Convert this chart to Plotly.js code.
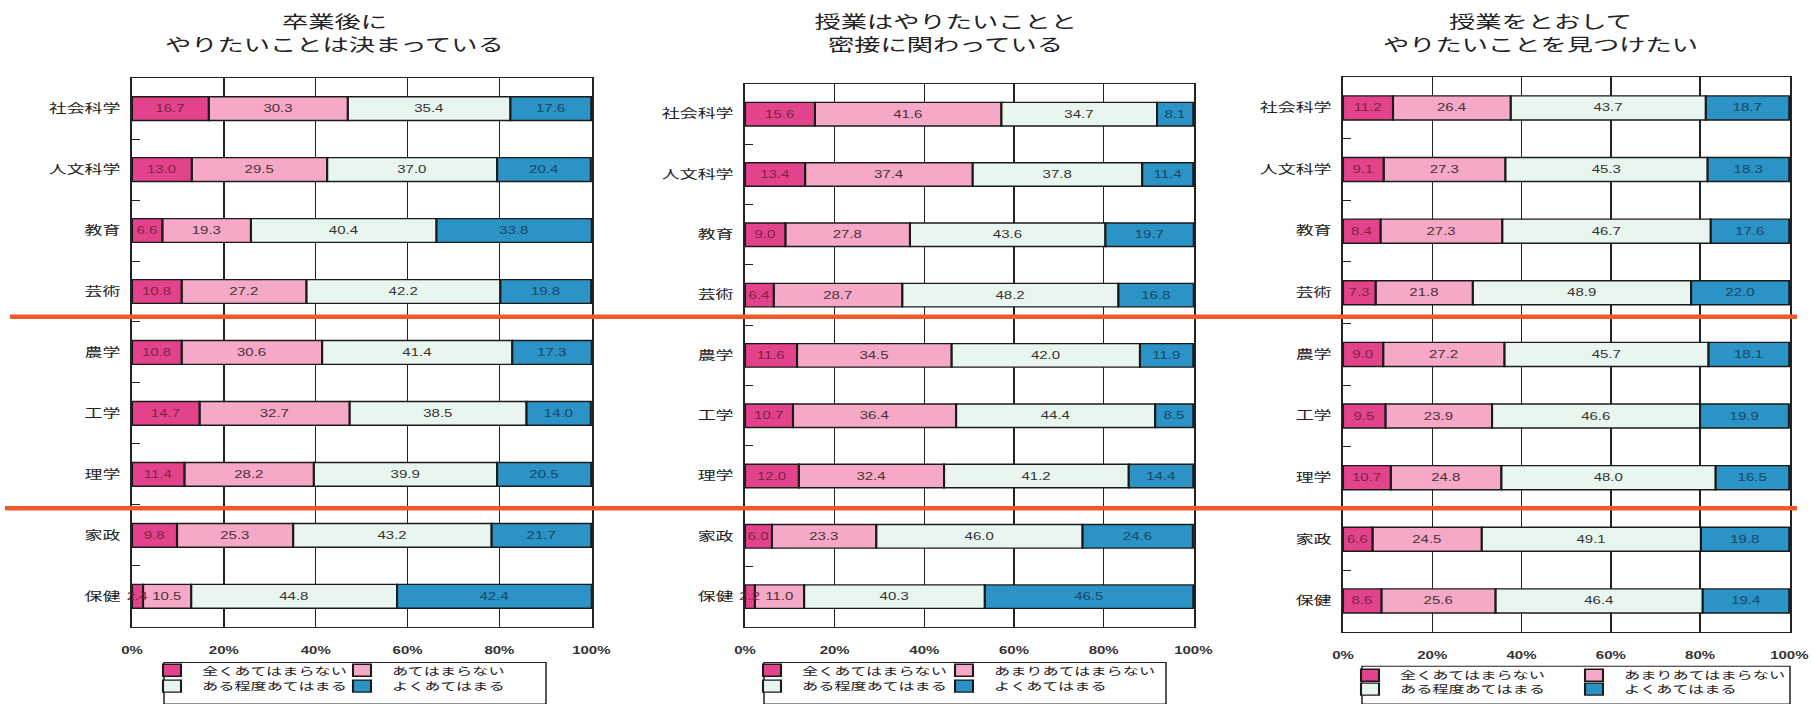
<!DOCTYPE html>
<html>
<head>
<meta charset="utf-8">
<script src="https://cdn.plot.ly/plotly-3.0.1.min.js"></script>
<style>
  html, body { margin: 0; padding: 0; background: #fff; overflow: hidden; }
  /* the figure is laid out narrow and widened horizontally, giving the broad lettering of the printed survey sheet */
  #chart { width: 1208px; height: 704px; transform: scaleX(1.5); transform-origin: 0 0; }
</style>
</head>
<body>
<div id="chart"></div>
<script>
// ---- survey data (percent of respondents) ----
const categories = ['社会科学', '人文科学', '教育', '芸術', '農学', '工学', '理学', '家政', '保健'];

const answersA = ['全くあてはまらない', 'あてはまらない', 'ある程度あてはまる', 'よくあてはまる'];
const answersB = ['全くあてはまらない', 'あまりあてはまらない', 'ある程度あてはまる', 'よくあてはまる'];

const titles = [
  ['卒業後に', 'やりたいことは決まっている'],
  ['授業はやりたいことと', '密接に関わっている'],
  ['授業をとおして', 'やりたいことを見つけたい']
];

// 卒業後にやりたいことは決まっている
const decidedNotAtAll = [16.7, 13.0, 6.6, 10.8, 10.8, 14.7, 11.4, 9.8, 2.4];
const decidedNot      = [30.3, 29.5, 19.3, 27.2, 30.6, 32.7, 28.2, 25.3, 10.5];
const decidedSomewhat = [35.4, 37.0, 40.4, 42.2, 41.4, 38.5, 39.9, 43.2, 44.8];
const decidedVery     = [17.6, 20.4, 33.8, 19.8, 17.3, 14.0, 20.5, 21.7, 42.4];

// 授業はやりたいことと密接に関わっている
const relatedNotAtAll = [15.6, 13.4, 9.0, 6.4, 11.6, 10.7, 12.0, 6.0, 2.2];
const relatedNot      = [41.6, 37.4, 27.8, 28.7, 34.5, 36.4, 32.4, 23.3, 11.0];
const relatedSomewhat = [34.7, 37.8, 43.6, 48.2, 42.0, 44.4, 41.2, 46.0, 40.3];
const relatedVery     = [8.1, 11.4, 19.7, 16.8, 11.9, 8.5, 14.4, 24.6, 46.5];

// 授業をとおしてやりたいことを見つけたい
const findNotAtAll = [11.2, 9.1, 8.4, 7.3, 9.0, 9.5, 10.7, 6.6, 8.6];
const findNot      = [26.4, 27.3, 27.3, 21.8, 27.2, 23.9, 24.8, 24.5, 25.6];
const findSomewhat = [43.7, 45.3, 46.7, 48.9, 45.7, 46.6, 48.0, 49.1, 46.4];
const findVery     = [18.7, 18.3, 17.6, 22.0, 18.1, 19.9, 16.5, 19.8, 19.4];

const xTickVals = [0, 20, 40, 60, 80, 100];

// ---- styling ----
const W = 1812, H = 704, SX = 1.5;            // final picture size and horizontal widening
const fillColors = ['#e3438a', '#f6a9c6', '#e9f6ef', '#2b93c5'];
const textColors = ['#7d2448', '#4a3038', '#333333', '#17476a'];
const cjk = '"Noto Sans CJK JP", "Noto Sans", sans-serif';
const latin = '"Liberation Sans", Arial, sans-serif';

const px = v => v / W;          // horizontal pixel -> paper fraction
const py = v => 1 - v / H;      // vertical pixel -> paper fraction
const LEGEND_TEXT_OFFSET = 40;  // plotly puts legend text this far (layout px) right of the legend origin
// rounded shares can add up to 100.1, so the scale runs a hair past 100 to keep those last labels drawn
const X_RANGE = [0, 100.15];

// panel frames, title rows, legend grid (text start per column, centre per row) and legend frame, in picture px
const panels = [
  { series: [decidedNotAtAll, decidedNot, decidedSomewhat, decidedVery], names: answersA,
    box: [132, 592, 79, 634], titleX: 335, titleRows: [21, 44],
    legendCols: [202, 392], legendRows: [678, 694], legendBox: [164, 546, 670, 712] },
  { series: [relatedNotAtAll, relatedNot, relatedSomewhat, relatedVery], names: answersB,
    box: [745, 1194, 85, 634], titleX: 945, titleRows: [21, 44],
    legendCols: [802, 994], legendRows: [678, 694], legendBox: [764, 1166, 670, 712] },
  { series: [findNotAtAll, findNot, findSomewhat, findVery], names: answersB,
    box: [1343, 1790, 78, 639], titleX: 1540, titleRows: [21, 44],
    legendCols: [1400, 1624], legendRows: [683, 697], legendBox: [1362, 1790, 674, 712] }
];

const traces = [];
const layout = {
  width: W / SX, height: H,
  margin: { l: 0, r: 0, t: 0, b: 0 },
  paper_bgcolor: '#ffffff', plot_bgcolor: '#ffffff',
  // segments are stacked through explicit bases so the first segment can be painted last:
  // its label then stays readable where it spills over a very thin bar
  barmode: 'overlay', bargap: 0.61,
  showlegend: true,
  font: { family: cjk, color: '#222' },
  annotations: [], shapes: []
};

let legendCount = 0;

panels.forEach((p, k) => {
  const sfx = k === 0 ? '' : String(k + 1);
  const xa = 'x' + sfx, ya = 'y' + sfx;

  // running left edge of every segment
  const bases = [];
  let running = categories.map(() => 0);
  p.series.forEach(vals => {
    bases.push(running.slice());
    running = running.map((b, j) => b + vals[j]);
  });

  const panelTraces = p.series.map((vals, i) => {
    legendCount += 1;
    const lg = legendCount === 1 ? 'legend' : 'legend' + legendCount;
    const col = i % 2, row = Math.floor(i / 2);

    layout[lg] = {
      orientation: 'h', xanchor: 'left', yanchor: 'middle',
      x: (p.legendCols[col] / SX - LEGEND_TEXT_OFFSET) / (W / SX),
      y: py(p.legendRows[row]),
      bgcolor: 'rgba(0,0,0,0)', borderwidth: 0,
      font: { family: cjk, size: 10.8, color: '#222' },
      itemclick: false, itemdoubleclick: false
    };

    return {
      type: 'bar', orientation: 'h',
      x: vals, base: bases[i], y: categories,
      xaxis: xa, yaxis: ya,
      name: p.names[i],
      legend: lg,
      marker: { color: fillColors[i], line: { color: '#1a1a1a', width: 1.4 } },
      text: vals.map(v => v.toFixed(1)),
      texttemplate: '%{text}',
      textposition: 'inside', insidetextanchor: 'middle',
      textangle: 0, constraintext: 'none',
      cliponaxis: false,
      textfont: { family: latin, size: 10, color: textColors[i] },
      hoverinfo: 'skip'
    };
  });
  // paint order: later segments first, the leftmost segment on top
  traces.push(panelTraces[1], panelTraces[2], panelTraces[3], panelTraces[0]);

  const [x0, x1, y0, y1] = p.box;
  layout['xaxis' + sfx] = {
    domain: [px(x0), px(x1)], anchor: ya,
    range: X_RANGE, fixedrange: true,
    tickvals: xTickVals, ticktext: xTickVals.map(v => v + '%'),
    ticks: '', ticklabelstandoff: 14, ticklabeloverflow: 'allow',
    tickfont: { family: latin, size: 10, color: '#333', weight: 'bold' },
    showgrid: true, gridcolor: '#222', gridwidth: 1,
    zeroline: false,
    showline: true, mirror: true, linecolor: '#222', linewidth: 1.2
  };
  layout['yaxis' + sfx] = {
    domain: [py(y1), py(y0)], anchor: xa,
    type: 'category', categoryorder: 'array', categoryarray: categories,
    autorange: 'reversed', fixedrange: true,
    tickson: 'boundaries', ticks: 'inside', ticklen: 5, tickwidth: 1, tickcolor: '#222',
    ticklabelstandoff: 4,
    tickfont: { family: cjk, size: 12, color: '#222' },
    showgrid: false, zeroline: false,
    showline: true, mirror: true, linecolor: '#222', linewidth: 1.2
  };

  titles[k].forEach((line, r) => {
    layout.annotations.push({
      xref: 'paper', yref: 'paper', x: px(p.titleX), y: py(p.titleRows[r]),
      xanchor: 'center', yanchor: 'middle', showarrow: false,
      text: line,
      font: { family: cjk, size: 17.5, color: '#222' }
    });
  });

  const [lx0, lx1, ly0, ly1] = p.legendBox;
  layout.shapes.push({
    type: 'rect', xref: 'paper', yref: 'paper',
    x0: px(lx0), x1: px(lx1), y0: py(ly1), y1: py(ly0),
    line: { color: '#222', width: 1 }, fillcolor: 'rgba(0,0,0,0)', layer: 'above'
  });
});

// orange group dividers across all three panels
[[10, 1797, 320.5], [5, 1797, 514]].forEach(([a, b, yy]) => {
  layout.shapes.push({
    type: 'line', xref: 'paper', yref: 'paper',
    x0: px(a), x1: px(b), y0: py(yy), y1: py(yy),
    line: { color: '#ee5a2a', width: 4.5 }, layer: 'above'
  });
});

Plotly.newPlot('chart', traces, layout, { staticPlot: true, displayModeBar: false });
</script>
</body>
</html>
